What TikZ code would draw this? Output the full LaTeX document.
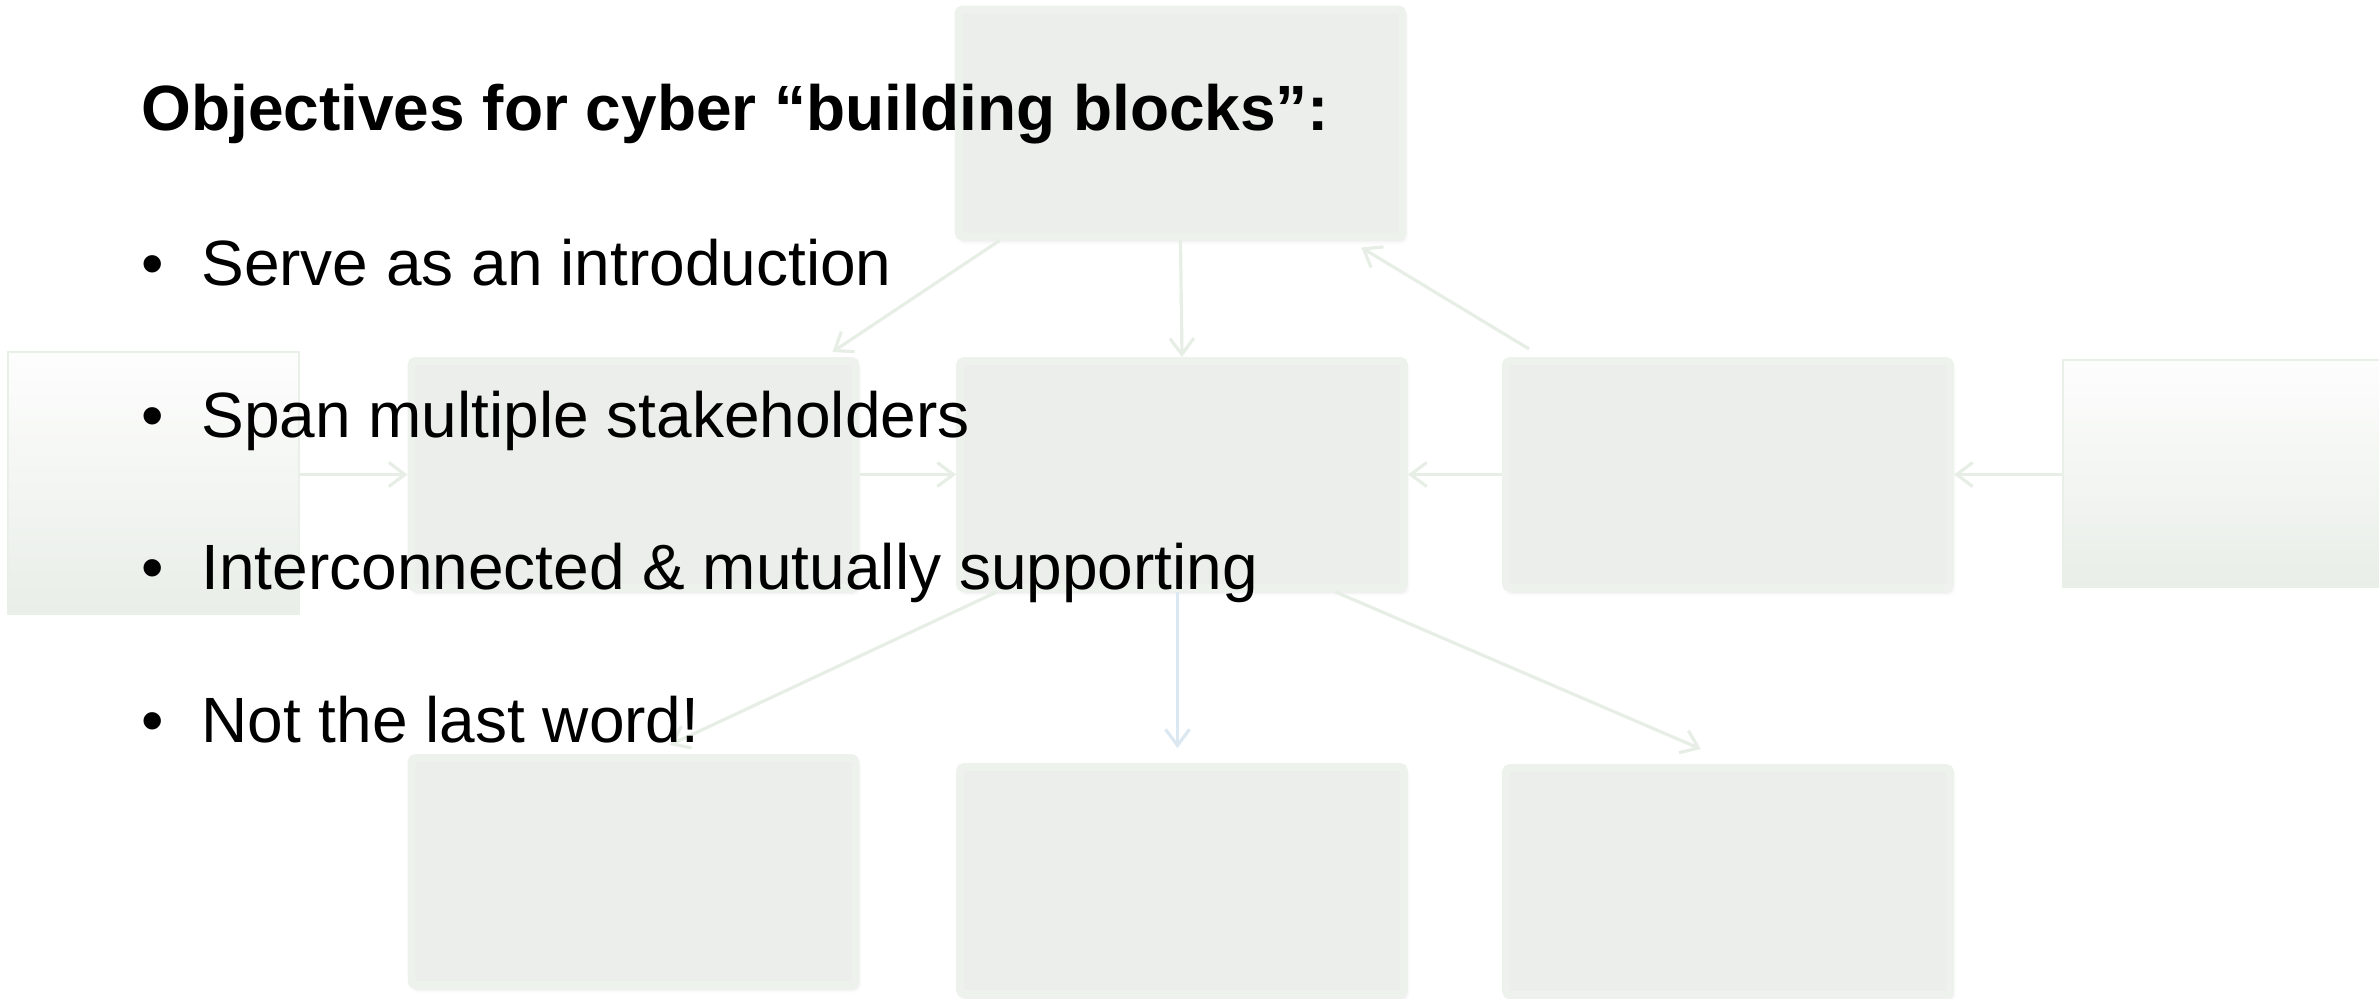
\documentclass[tikz,border=0pt]{standalone}
\usepackage{fontspec}
\setmainfont{Liberation Sans}
\usetikzlibrary{arrows.meta,calc,shadows.blur}

\definecolor{boxfill}{HTML}{EBEEEA}
\definecolor{boxedge}{HTML}{EEF2ED}
\definecolor{linkcol}{HTML}{E6EEE5}
\definecolor{linkblue}{HTML}{DCE8F1}
\definecolor{gradtop}{HTML}{FDFDFD}
\definecolor{gradbot}{HTML}{E9EEE8}
\definecolor{gradedge}{HTML}{E9F0E8}

\tikzset{
  block/.style={draw=boxedge, fill=boxfill, line width=4pt, rounded corners=2pt,
    inner sep=0pt, minimum width=#1, minimum height=113.5pt,
    blur shadow={shadow xshift=1pt, shadow yshift=-2pt, shadow blur steps=6, shadow opacity=12}},
  block/.default=222pt,
  fadebox/.style={draw=gradedge, line width=1pt, top color=gradtop, bottom color=gradbot,
    inner sep=0pt},
  link/.style={draw=linkcol, line width=1.6pt,
    -{Straight Barb[length=8pt, width=12pt, line width=1.6pt]}},
  txt/.style={anchor=base west, inner sep=0pt, font=\fontsize{32pt}{38pt}\selectfont},
}

\begin{document}
\begin{tikzpicture}[x=0.5pt, y=-0.5pt]
  \useasboundingbox (0,0) rectangle (2379,998);

  % grid of building blocks
  \node[block] (T) at (1180.5,123) {};
  \node[block] (B) at (633.5,474.5) {};
  \node[block] (C) at (1182,474.5) {};
  \node[block] (D) at (1728,474.5) {};
  \node[block] (E) at (633.5,871.5) {};
  \node[block] (F) at (1182,880.5) {};
  \node[block] (G) at (1728,881.5) {};

  % outer input blocks
  \node[fadebox, minimum width=145.5pt, minimum height=131pt] (L) at (153.5,483) {};
  \node[fadebox, minimum width=166pt, minimum height=113.5pt] (R) at (2229,473.5) {};

  % connectors
  \draw[link] ($(T.south west)!0.10!(T.south east)$) -- ($(B.north west)!0.94!(B.north east)+(0,-5)$);
  \draw[link] ($(T.south west)!0.50!(T.south east)$) -- ($(C.north west)!0.50!(C.north east)$);
  \draw[link] ($(D.north west)!0.06!(D.north east)+(0,-8)$) -- ($(T.south west)!0.90!(T.south east)+(0,7)$);
  \draw[link] (L.east |- B.west) -- (B.west);
  \draw[link] (B.east) -- (C.west);
  \draw[link] (D.west) -- (C.east);
  \draw[link] (R.west |- D.east) -- (D.east);
  \draw[link] ($(C.south west)!0.09!(C.south east)$) -- ($(E.north west)!0.58!(E.north east)+(0,-9)$);
  \draw[link, draw=linkblue] ($(C.south west)!0.49!(C.south east)$) -- ($(F.north west)!0.49!(F.north east)+(0,-15)$);
  \draw[link] ($(C.south west)!0.84!(C.south east)$) -- ($(G.north west)!0.44!(G.north east)+(0,-15)$);

  % text
  \node[txt, font=\fontsize{32pt}{38pt}\selectfont\bfseries] (title) at (141,130)
    {Objectives for cyber “building blocks”:};
  \node[txt] (b1) at (141,285) {•};
  \node[txt] (t1) at (201,285) {Serve as an introduction};
  \node[txt] (b2) at (141,437) {•};
  \node[txt] (t2) at (201,437) {Span multiple stakeholders};
  \node[txt] (b3) at (141,589) {•};
  \node[txt] (t3) at (201,589) {Interconnected \& mutually supporting};
  \node[txt] (b4) at (141,742) {•};
  \node[txt] (t4) at (201,742) {Not the last word!};
\end{tikzpicture}
\end{document}
